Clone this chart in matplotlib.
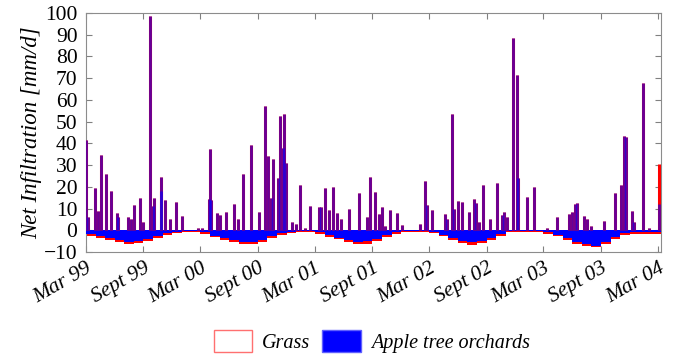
import numpy as np
import matplotlib
matplotlib.use("Agg")
import matplotlib.pyplot as plt
from matplotlib.patches import Patch

# ---------------------------------------------------------------------------
# Data
# ---------------------------------------------------------------------------
# monthly lower envelope (net infiltration < 0), Mar 1999 .. Mar 2004
month_start = np.arange("1999-03", "2004-04", dtype="datetime64[M]")
grass_neg = [
    -2.5, -3.5, -4.5, -5.5, -6.2, -6.0, -4.8, -3.5, -2.2, -1.2,
    -0.8, -0.8, -1.5, -3.2, -4.5, -5.5, -6.2, -6.2, -5.3, -3.6, -2.0, -1.2,
    -0.9, -0.9, -1.5, -3.0, -4.2, -5.6, -6.3, -6.1, -4.7, -3.1, -1.6, -0.9,
    -0.8, -0.8, -1.3, -2.8, -4.6, -6.0, -6.6, -6.0, -4.3, -2.6, -1.0, -0.6,
    -0.6, -0.7, -1.5, -2.8, -4.6, -6.2, -7.2, -7.7, -6.4, -3.9, -2.0, -1.5,
    -1.5, -1.6, -1.8,
]
apple_neg = [
    -1.8, -2.7, -3.6, -4.5, -5.2, -5.0, -3.8, -2.6, -1.4, -0.6,
    -0.3, -0.3, -0.8, -2.4, -3.6, -4.6, -5.2, -5.2, -4.3, -2.8, -1.3, -0.6,
    -0.4, -0.4, -0.8, -2.2, -3.4, -4.6, -5.3, -5.1, -3.8, -2.3, -1.0, -0.4,
    -0.3, -0.3, -0.7, -2.0, -3.7, -5.0, -5.6, -5.0, -3.4, -1.9, -0.5, -0.2,
    -0.2, -0.3, -0.8, -2.0, -3.7, -5.2, -6.3, -7.0, -5.4, -3.0, -1.3, -0.8,
    -0.7, -0.8, -1.0,
]

# rain events (positive net infiltration)
event_dates = np.array([
    "1999-03-03", "1999-03-07", "1999-03-29", "1999-04-08", "1999-04-17",
    "1999-05-06", "1999-05-21", "1999-06-07", "1999-06-11", "1999-07-15",
    "1999-07-23", "1999-08-03", "1999-08-20", "1999-08-29", "1999-09-21",
    "1999-10-01", "1999-10-06", "1999-10-26", "1999-10-28", "1999-11-08",
    "1999-11-24", "1999-12-13", "2000-01-01", "2000-02-21", "2000-03-05",
    "2000-03-29", "2000-04-01", "2000-04-03", "2000-04-22", "2000-05-01",
    "2000-05-22", "2000-06-15", "2000-06-28", "2000-07-14", "2000-08-09",
    "2000-09-04", "2000-09-24", "2000-10-04", "2000-10-12", "2000-10-17",
    "2000-11-05", "2000-11-10", "2000-11-18", "2000-11-22", "2000-11-29",
    "2000-12-17", "2000-12-31", "2001-01-12", "2001-01-30", "2001-02-13",
    "2001-03-14", "2001-03-20", "2001-04-03", "2001-04-14", "2001-04-27",
    "2001-05-10", "2001-05-23", "2001-06-17", "2001-07-21", "2001-08-16",
    "2001-08-24", "2001-09-08", "2001-09-21", "2001-10-01", "2001-10-12",
    "2001-10-28", "2001-11-19", "2001-12-05", "2002-02-01", "2002-02-15",
    "2002-02-23", "2002-03-11", "2002-04-20", "2002-04-27", "2002-05-13",
    "2002-05-19", "2002-06-01", "2002-06-15", "2002-07-06", "2002-07-22",
    "2002-07-29", "2002-08-08", "2002-08-19", "2002-09-11", "2002-10-04",
    "2002-10-19", "2002-10-27", "2002-11-04", "2002-11-25", "2002-12-06",
    "2002-12-11", "2003-01-07", "2003-01-31", "2003-03-13", "2003-04-12",
    "2003-05-23", "2003-05-31", "2003-06-09", "2003-06-15", "2003-07-09",
    "2003-07-17", "2003-07-30", "2003-09-10", "2003-10-16", "2003-11-03",
    "2003-11-13", "2003-11-21", "2003-12-10", "2003-12-15", "2004-01-12",
    "2004-02-02", "2004-03-05",
], dtype="datetime64[D]")
grass_event = [
    41.5, 6.0, 19.3, 9.0, 34.5, 26.0, 18.0, 7.8, 6.0, 6.0,
    5.0, 11.6, 15.0, 4.0, 98.5, 11.0, 15.0, 18.0, 24.5, 13.8,
    5.0, 13.0, 6.6, 1.0, 1.0, 14.5, 37.5, 14.0, 8.0, 7.0,
    8.5, 12.0, 5.0, 26.0, 39.0, 8.5, 57.0, 34.0, 15.0, 33.0,
    24.0, 52.5, 38.0, 53.5, 31.0, 4.0, 3.0, 21.0, 1.0, 11.0,
    10.8, 10.8, 19.3, 9.5, 20.0, 8.0, 5.4, 9.7, 17.3, 6.0,
    24.5, 17.7, 7.5, 10.8, 2.0, 9.2, 8.0, 2.5, 3.0, 22.8,
    11.6, 9.2, 7.5, 5.4, 53.5, 10.0, 13.6, 13.0, 8.2, 14.6,
    12.5, 4.0, 20.8, 5.4, 21.9, 7.0, 8.5, 6.0, 88.5, 71.5,
    24.0, 15.4, 20.0, 1.0, 6.0, 7.5, 8.6, 12.0, 12.6, 6.6,
    5.0, 2.0, 4.3, 17.0, 21.0, 43.5, 43.0, 8.8, 4.0, 67.5,
    1.0, 30.4,
]
apple_event = [
    41.5, 6.0, 19.3, 9.0, 34.5, 26.0, 18.0, 7.8, 6.0, 6.0,
    5.0, 11.6, 15.0, 4.0, 98.5, 11.0, 15.0, 18.0, 24.5, 13.8,
    5.0, 13.0, 6.6, 1.0, 1.0, 14.5, 37.5, 14.0, 8.0, 7.0,
    8.5, 12.0, 5.0, 26.0, 39.0, 8.5, 57.0, 34.0, 15.0, 33.0,
    24.0, 52.5, 38.0, 53.5, 31.0, 4.0, 3.0, 21.0, 1.0, 11.0,
    10.8, 10.8, 19.3, 9.5, 20.0, 8.0, 5.4, 9.7, 17.3, 6.0,
    24.5, 17.7, 7.5, 10.8, 2.0, 9.2, 8.0, 2.5, 3.0, 22.8,
    11.6, 9.2, 7.5, 5.4, 53.5, 10.0, 13.6, 13.0, 8.2, 14.6,
    12.5, 4.0, 20.8, 5.4, 21.9, 7.0, 8.5, 6.0, 88.5, 71.5,
    24.0, 15.4, 20.0, 1.0, 6.0, 7.5, 8.6, 12.0, 12.6, 6.6,
    5.0, 2.0, 4.3, 17.0, 21.0, 43.5, 43.0, 8.8, 4.0, 67.5,
    1.0, 12.0,
]

tick_dates = np.array([
    "1999-03-01", "1999-09-01", "2000-03-01", "2000-09-01", "2001-03-01",
    "2001-09-01", "2002-03-01", "2002-09-01", "2003-03-01", "2003-09-01",
    "2004-03-01",
], dtype="datetime64[D]")
tick_labels = [
    "Mar 99", "Sept 99", "Mar 00", "Sept 00", "Mar 01", "Sept 01",
    "Mar 02", "Sept 02", "Mar 03", "Sept 03", "Mar 04",
]

# ---------------------------------------------------------------------------
# Plot
# ---------------------------------------------------------------------------
plt.rcParams["font.family"] = ["Liberation Serif", "DejaVu Serif"]

fig = plt.figure(figsize=(6.81, 3.56), dpi=100)
ax = fig.add_axes([0.126, 0.292, 0.845, 0.672])

m_left = month_start.astype("datetime64[D]")
m_width = ((month_start + 1).astype("datetime64[D]") - m_left).astype(float)
ax.bar(m_left, grass_neg, width=m_width, align="edge",
       color="red", linewidth=0, zorder=2)
ax.bar(m_left, apple_neg, width=m_width, align="edge",
       color="blue", linewidth=0, zorder=3)

# grass: red, apple orchards: semi-transparent blue on top (reads purple)
ax.vlines(event_dates, 0, grass_event, color="red", linewidth=2.2, zorder=4)
ax.vlines(event_dates, 0, apple_event, color="blue", linewidth=2.0,
          alpha=0.6, zorder=5)

ax.set_xlim(np.datetime64("1999-03-01"), np.datetime64("2004-03-11"))
ax.set_ylim(-10, 100)
ax.set_yticks(np.arange(-10, 101, 10))
ax.set_xticks(tick_dates)
ax.set_xticklabels(tick_labels, rotation=30, ha="right",
                   rotation_mode="anchor", style="italic", fontsize=15.5)
ax.tick_params(axis="y", labelsize=15.5, pad=6)
ax.tick_params(axis="x", pad=5)
ax.tick_params(which="both", direction="in", top=True, right=True,
               color="0.5", length=4)
for s in ax.spines.values():
    s.set_color("0.55")
ax.set_ylabel("Net Infiltration [mm/d]", style="italic", fontsize=16.5,
              labelpad=1)

handles = [
    Patch(facecolor="white", edgecolor="#ff7070", label="Grass"),
    Patch(facecolor="blue", edgecolor="#6060ff", label="Apple tree orchards"),
]
fig.legend(handles=handles, loc="center", bbox_to_anchor=(0.546, 0.04),
           ncol=2, frameon=False, handlelength=1.9, handleheight=1.3,
           columnspacing=0.6, handletextpad=0.5,
           prop={"style": "italic", "size": 14.5})

fig.savefig("out.png", dpi=100)
